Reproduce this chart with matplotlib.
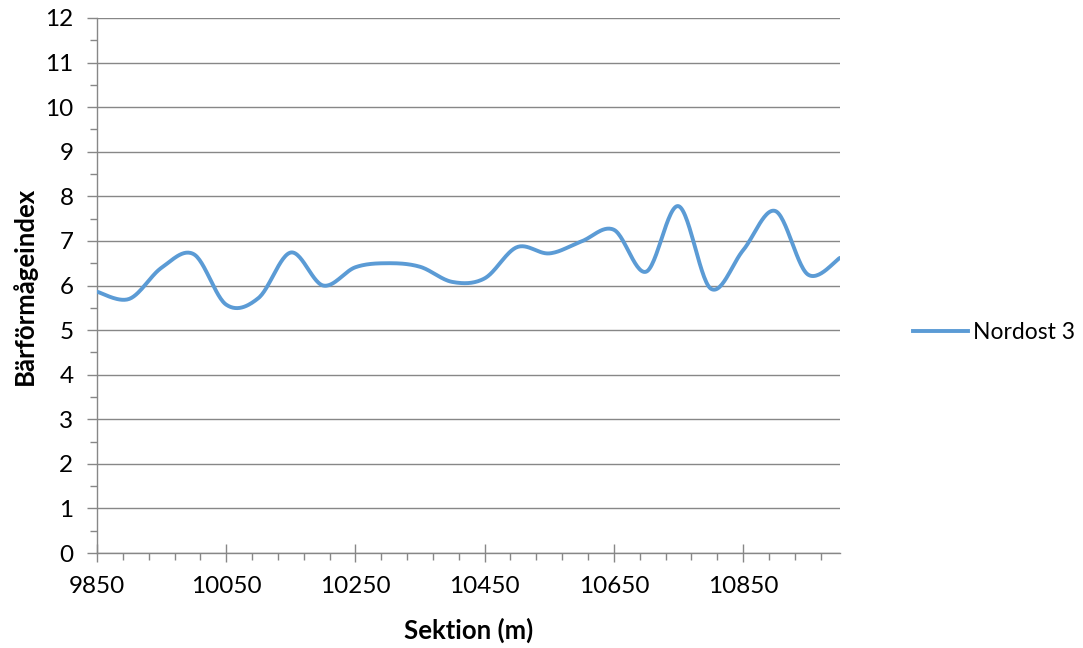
import numpy as np
import matplotlib
matplotlib.use("Agg")
import matplotlib.pyplot as plt
from matplotlib.ticker import MultipleLocator
from matplotlib.lines import Line2D

# Data
sektion = [9850, 9900, 9950, 10000, 10050, 10100, 10150, 10200, 10250, 10300,
           10350, 10400, 10450, 10500, 10550, 10600, 10650, 10700, 10750, 10800,
           10850, 10900, 10950, 11000]
barformaga = [5.86, 5.70, 6.40, 6.70, 5.57, 5.72, 6.74, 6.00, 6.41, 6.50,
              6.42, 6.08, 6.16, 6.86, 6.72, 6.99, 7.25, 6.31, 7.78, 5.93,
              6.79, 7.67, 6.25, 6.62]
series_name = "Nordost 3"
x_label = "Sektion (m)"
y_label = "Bärförmågeindex"

def smooth(xs, ys, n=30):
    # Excel-like smoothed line (Catmull-Rom Bezier through the points)
    x = np.asarray(xs, float); y = np.asarray(ys, float)
    P = np.column_stack([x, y])
    P = np.vstack([P[0], P, P[-1]])
    out = []
    t = np.linspace(0, 1, n)[:, None]
    for i in range(1, len(P) - 2):
        p0, p1, p2, p3 = P[i - 1], P[i], P[i + 1], P[i + 2]
        c1 = p1 + (p2 - p0) / 6
        c2 = p2 - (p3 - p1) / 6
        seg = ((1 - t) ** 3) * p1 + 3 * ((1 - t) ** 2) * t * c1 + 3 * (1 - t) * t ** 2 * c2 + t ** 3 * p2
        out.append(seg if i == 1 else seg[1:])
    s = np.vstack(out)
    return s[:, 0], s[:, 1]

font = "Lato"
plt.rcParams['font.family'] = [font, 'DejaVu Sans']

fig = plt.figure(figsize=(10.83, 6.48), dpi=100)
ax = fig.add_axes([97 / 1083, 1 - 553 / 648, (840 - 97) / 1083, (553 - 18) / 648])

line_color = "#5B9BD5"
grid_color = "#878787"
sx, sy = smooth(sektion, barformaga)
ax.plot(sx, sy, color=line_color, lw=2.8, solid_capstyle='round', zorder=3)

ax.set_xlim(9850, 11000)
ax.set_ylim(0, 12)
ax.yaxis.set_major_locator(MultipleLocator(1))
ax.yaxis.set_minor_locator(MultipleLocator(0.5))
ax.set_xticks(np.arange(9850, 11000, 200))
ax.set_xticks(np.arange(9850, 11001, 40), minor=True)

ax.grid(axis='y', which='major', color=grid_color, lw=1.0)
ax.set_axisbelow(True)
for s in ['top', 'right']:
    ax.spines[s].set_visible(False)
for s in ['left', 'bottom']:
    ax.spines[s].set_color(grid_color)
    ax.spines[s].set_linewidth(1.0)

ax.tick_params(axis='x', which='major', direction='inout', length=13, width=1, color=grid_color,
               labelsize=17.5, labelcolor='#000000', pad=10)
ax.tick_params(axis='x', which='minor', direction='out', length=5, width=1, color=grid_color)
ax.tick_params(axis='y', which='major', direction='out', length=7, width=1, color=grid_color,
               labelsize=17.5, labelcolor='#000000', pad=10)
ax.tick_params(axis='y', which='minor', direction='out', length=5, width=1, color=grid_color)

ax.set_xlabel(x_label, fontsize=18.5, fontweight='bold', labelpad=15)
ax.set_ylabel(y_label, fontsize=18.5, fontweight='bold', labelpad=6)

handle = Line2D([0], [0], color=line_color, lw=2.8)
fig.legend([handle], [series_name], loc='center left', bbox_to_anchor=(913 / 1083, 1 - 333 / 648),
           frameon=False, fontsize=16.5, handlelength=2.4, handletextpad=0.22,
           borderpad=0, borderaxespad=0)

fig.savefig("out.png", dpi=100)
